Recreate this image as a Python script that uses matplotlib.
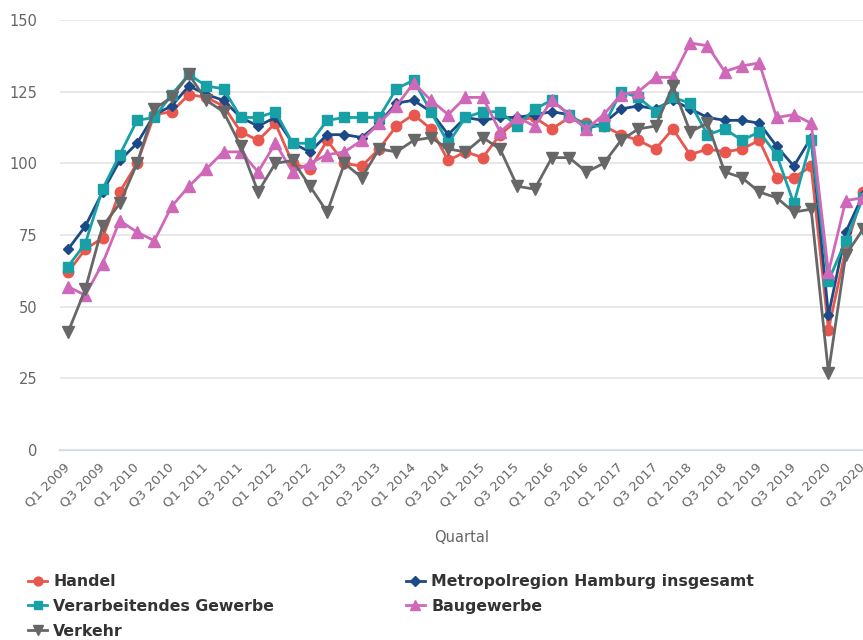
import numpy as np
import matplotlib
matplotlib.use("Agg")
import matplotlib.pyplot as plt

# quarters Q1 2009 .. Q3 2020
quarters = [f"Q{q} {y}" for y in range(2009, 2021) for q in range(1, 5)][:47]

handel = [62, 70, 74, 90, 100, 117, 118, 124, 123, 120, 111, 108, 114, 100, 98, 108,
          100, 99, 105, 113, 117, 112, 101, 104, 102, 110, 115, 116, 112, 116, 114, 113,
          110, 108, 105, 112, 103, 105, 104, 105, 108, 95, 95, 99, 42, 70, 90]
metropol = [70, 78, 90, 101, 107, 117, 120, 127, 124, 122, 116, 113, 116, 107, 104, 110,
            110, 109, 114, 121, 122, 118, 110, 116, 115, 116, 116, 117, 118, 117, 112, 114,
            119, 120, 119, 122, 119, 116, 115, 115, 114, 106, 99, 109, 47, 76, 89]
verarbeitend = [64, 72, 91, 103, 115, 116, 124, 131, 127, 126, 116, 116, 118, 107, 107, 115,
                116, 116, 116, 126, 129, 118, 107, 116, 118, 118, 113, 119, 122, 117, 113, 113,
                125, 123, 118, 123, 121, 110, 112, 108, 111, 103, 86, 108, 59, 73, 88]
bau = [57, 54, 65, 80, 76, 73, 85, 92, 98, 104, 104, 97, 107, 97, 100, 103,
       104, 108, 114, 120, 128, 122, 117, 123, 123, 111, 116, 113, 122, 117, 112, 117,
       124, 125, 130, 130, 142, 141, 132, 134, 135, 116, 117, 114, 62, 87, 88]
verkehr = [41, 56, 78, 86, 100, 119, 123, 131, 122, 118, 106, 90, 100, 101, 92, 83,
           100, 95, 105, 104, 108, 109, 105, 104, 109, 105, 92, 91, 102, 102, 97, 100,
           108, 112, 113, 127, 111, 114, 97, 95, 90, 88, 83, 84, 27, 68, 77]

series = [
    ("Handel", handel, "#e8564d", "o", 7.5),
    ("Metropolregion Hamburg insgesamt", metropol, "#1b4a87", "D", 5.5),
    ("Verarbeitendes Gewerbe", verarbeitend, "#17a0a5", "s", 7.5),
    ("Baugewerbe", bau, "#cf68b9", "^", 8),
    ("Verkehr", verkehr, "#676767", "v", 8),
]

fig = plt.figure(figsize=(8.63, 6.40), dpi=100)
ax = fig.add_axes([60 / 863, 190 / 640, 1 - 60 / 863, 430 / 640])

x = np.arange(len(quarters))
lines = {}
for name, vals, col, mk, ms in series:
    ln, = ax.plot(x, vals, color=col, marker=mk, markersize=ms, linewidth=2,
                  label=name)
    lines[name] = ln

ax.set_ylim(0, 150)
ax.set_xlim(-0.46, 46.0)
ax.set_yticks([0, 25, 50, 75, 100, 125, 150])
ax.grid(axis="y", color="#e6e6e6", linewidth=1.3)
ax.set_axisbelow(True)
for s in ["top", "right", "left"]:
    ax.spines[s].set_visible(False)
ax.spines["bottom"].set_color("#ccd6eb")
ax.spines["bottom"].set_linewidth(1.5)
ax.spines["bottom"].set_zorder(0.5)

ax.set_xticks(x[::2])
ax.set_xticklabels(quarters[::2], rotation=45, ha="right", va="center",
                   rotation_mode="anchor", fontsize=9.5, color="#666666")
ax.tick_params(axis="x", length=0, pad=11)
ax.tick_params(axis="y", length=0, pad=16, labelsize=10.5, labelcolor="#666666")

ax.set_xlabel("Quartal", fontsize=10.5, color="#666666", labelpad=14)

order = ["Handel", "Verarbeitendes Gewerbe", "Verkehr",
         "Metropolregion Hamburg insgesamt", "Baugewerbe"]
leg = fig.legend([lines[n] for n in order], order, ncol=2, loc="upper left",
                 bbox_to_anchor=(14 / 863, 1 - 560 / 640), frameon=False,
                 prop={"size": 11.3, "weight": "bold"}, handlelength=1.2,
                 handletextpad=0.4, columnspacing=8.4, labelspacing=0.62,
                 markerscale=0.85)
for t in leg.get_texts():
    t.set_color("#333333")

fig.savefig("out.png", dpi=100)
